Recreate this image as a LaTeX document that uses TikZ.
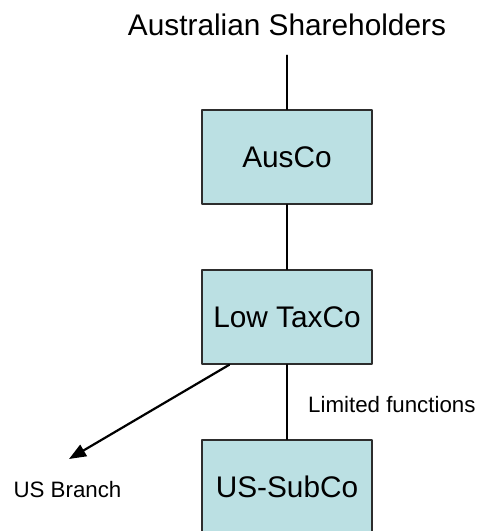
\documentclass[tikz,border=0pt]{standalone}
\usepackage{fontspec}
\setmainfont{Liberation Sans}
\usetikzlibrary{arrows.meta}

\definecolor{boxteal}{RGB}{187,224,227}
\definecolor{boxedge}{RGB}{45,45,45}

\begin{document}
\begin{tikzpicture}[x=1pt,y=-1pt,line cap=round,line join=round,
    entity/.style={draw=boxedge,line width=1.6pt,fill=boxteal,
        minimum width=170pt,minimum height=94pt,inner sep=0pt,
        font=\fontsize{29.8}{35}\selectfont},
    bigtext/.style={font=\fontsize{29.8}{35}\selectfont,inner sep=0pt},
    smalltext/.style={font=\fontsize{22.3}{27}\selectfont,inner sep=0pt},
    link/.style={line width=1.5pt,black}]
        \useasboundingbox (0,0) rectangle (484,531);

        % ownership chain
        \node[bigtext,anchor=base,outer ysep=20pt] (holders) at (287,35) {Australian Shareholders};
        \node[entity] (ausco) at (287,157) {AusCo};
        \node[entity] (lowtax) at (287,317) {Low TaxCo};
        \node[entity] (subco) at (287,487) {US-SubCo};

        \draw[link] (holders.south) -- (ausco.north);
        \draw[link] (ausco.south) -- (lowtax.north);
        \draw[link] (lowtax.south) -- (subco.north);

        \node[smalltext,anchor=base west] (limited) at (308,412) {Limited functions};

        % branch off the low tax company
        \node[smalltext,anchor=base] (branch) at (67.5,497) {US Branch};
        \coordinate (branchtip) at (69,459);
        \draw[line width=2.2pt,-{Triangle[length=17pt,width=13pt]}]
            (lowtax.south west) ++(28,0) -- (branchtip);
    \end{tikzpicture}
\end{document}
